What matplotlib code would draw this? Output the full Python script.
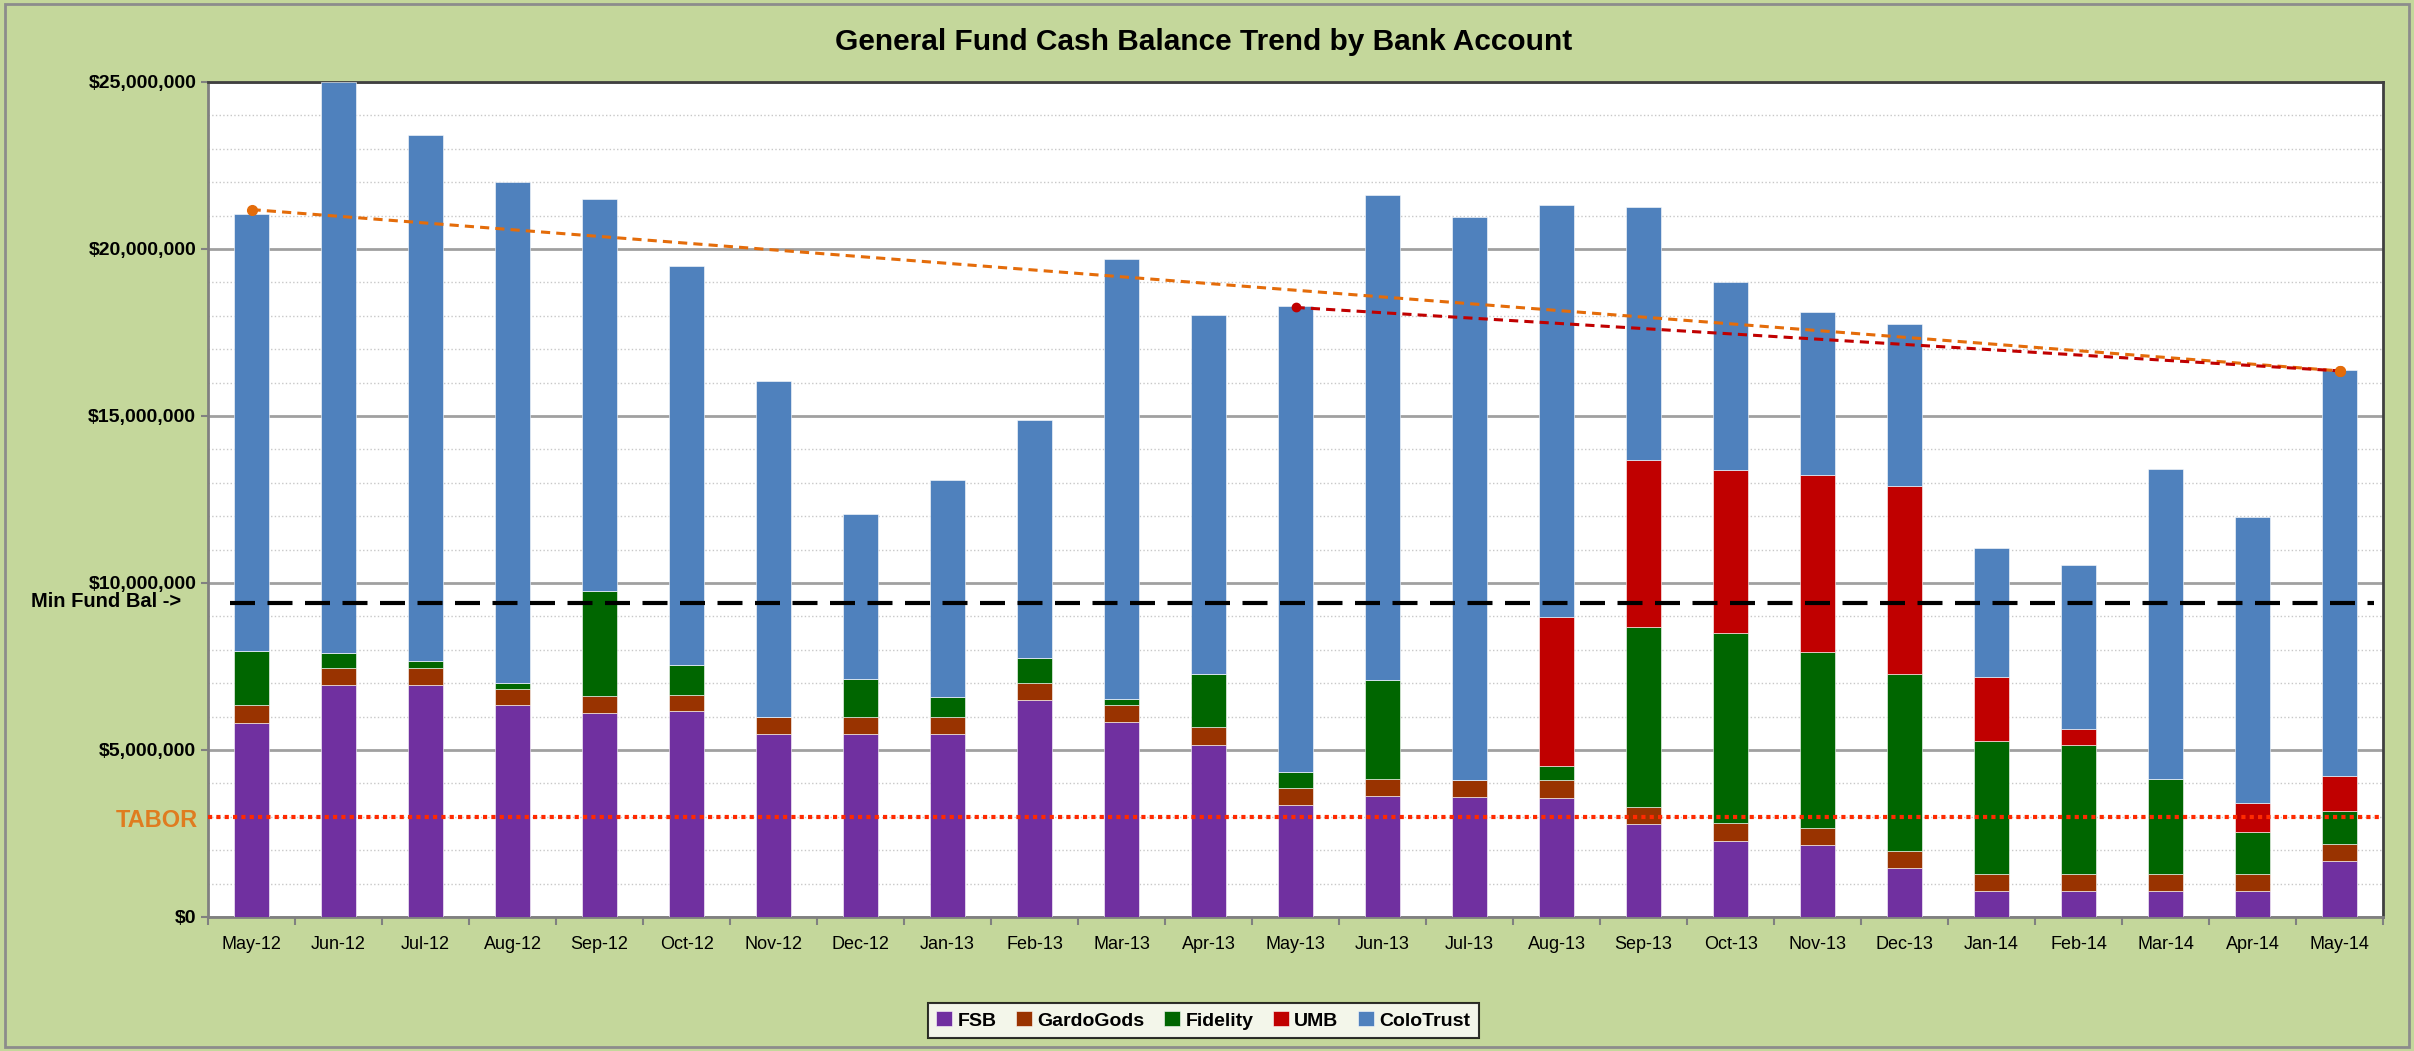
import numpy as np
import matplotlib.pyplot as plt
import matplotlib.patches as mpatches
from matplotlib.ticker import FuncFormatter, MultipleLocator

plt.rcParams['font.family'] = ['Liberation Sans Narrow', 'Liberation Sans', 'DejaVu Sans']

# Mois et soldes (en millions de dollars).
mois = ['May-12', 'Jun-12', 'Jul-12', 'Aug-12', 'Sep-12', 'Oct-12', 'Nov-12',
        'Dec-12', 'Jan-13', 'Feb-13', 'Mar-13', 'Apr-13', 'May-13', 'Jun-13',
        'Jul-13', 'Aug-13', 'Sep-13', 'Oct-13', 'Nov-13', 'Dec-13', 'Jan-14',
        'Feb-14', 'Mar-14', 'Apr-14', 'May-14']
fsb = [5.82, 6.94, 6.94, 6.34, 6.10, 6.16, 5.47, 5.47, 5.47, 6.50, 5.83, 5.16,
       3.34, 3.63, 3.59, 3.57, 2.77, 2.28, 2.15, 1.47, 0.78, 0.78, 0.77, 0.77, 1.68]
gardogods = [0.52, 0.52, 0.52, 0.50, 0.51, 0.50, 0.51, 0.51, 0.51, 0.51, 0.51, 0.52,
             0.52, 0.51, 0.51, 0.52, 0.51, 0.52, 0.52, 0.51, 0.52, 0.52, 0.53, 0.51, 0.52]
fidelity = [1.63, 0.43, 0.19, 0.16, 3.14, 0.87, 0.0, 1.15, 0.62, 0.74, 0.20, 1.59,
            0.48, 2.95, 0.0, 0.42, 5.40, 5.70, 5.25, 5.29, 3.98, 3.84, 2.84, 1.27, 0.96]
umb = [0, 0, 0, 0, 0, 0, 0, 0, 0, 0, 0, 0,
       0, 0, 0, 4.47, 5.01, 4.87, 5.31, 5.64, 1.92, 0.50, 0, 0.87, 1.06]
total = [21.05, 25.0, 23.41, 22.01, 21.49, 19.48, 16.05, 12.08, 13.09, 14.89,
         19.70, 18.02, 18.29, 21.62, 20.95, 21.32, 21.27, 19.02, 18.10, 17.74,
         11.06, 10.55, 13.42, 11.98, 16.37]

min_fund_bal = 9.40
tabor = 3.0
tendance_2ans = [21.18, 16.35]   # May-12 -> May-14
tendance_1an = [18.25, 16.35]    # May-13 -> May-14

couleurs = {'FSB': '#7030A0', 'GardoGods': '#993300', 'Fidelity': '#006600',
            'UMB': '#C00000', 'ColoTrust': '#4F81BD'}
fond = '#C4D79B'

x = np.arange(len(mois))
fsb = np.array(fsb)
gardogods = np.array(gardogods)
fidelity = np.array(fidelity)
umb = np.array(umb)
colotrust = np.array(total) - fsb - gardogods - fidelity - umb

fig = plt.figure(figsize=(24.14, 10.51), dpi=100, facecolor=fond)
fig.patches.append(mpatches.Rectangle((0.002, 0.004), 0.996, 0.992, transform=fig.transFigure,
                                      fill=False, edgecolor='#8C8C8C', linewidth=2))
ax = fig.add_axes([0.0862, 0.1275, 0.901, 0.7945])
ax.set_facecolor('white')

series = [('FSB', fsb), ('GardoGods', gardogods), ('Fidelity', fidelity),
          ('UMB', umb), ('ColoTrust', colotrust)]
bas = np.zeros(len(mois))
for nom, val in series:
    ax.bar(x, val * 1e6, 0.4, bottom=bas * 1e6, color=couleurs[nom], label=nom,
           edgecolor='white', linewidth=0.4, zorder=3)
    bas = bas + val

# Lignes de référence
ax.plot([-0.25, 24.4], [min_fund_bal * 1e6] * 2, color='black', linestyle=(0, (6, 3)),
        linewidth=3, zorder=4)
ax.axhline(tabor * 1e6, color='#FF2A00', linestyle=(0, (1, 1)), linewidth=3, zorder=4)

# Tendances
ax.plot([0, 24], np.array(tendance_2ans) * 1e6, color='#E46C0A', linestyle=(0, (3, 2)),
        linewidth=2.2, marker='o', markersize=7, zorder=5)
ax.plot([12, 24], np.array(tendance_1an) * 1e6, color='#C00000', linestyle=(0, (3, 2)),
        linewidth=2.2, marker='o', markersize=6, zorder=5)
ax.plot([24], [tendance_2ans[1] * 1e6], color='#E46C0A', marker='o', markersize=7, zorder=6)

ax.set_xlim(-0.5, 24.5)
ax.set_ylim(0, 25e6)
ax.yaxis.set_major_locator(MultipleLocator(5e6))
ax.yaxis.set_minor_locator(MultipleLocator(1e6))
ax.yaxis.set_major_formatter(FuncFormatter(lambda v, p: '${:,.0f}'.format(v)))
ax.grid(which='major', axis='y', color='#A0A0A0', linewidth=2, zorder=0)
ax.grid(which='minor', axis='y', color='#C8C8C8', linestyle=':', linewidth=1, zorder=0)
ax.set_axisbelow(True)

ax.set_xticks(x)
ax.set_xticklabels(mois, fontsize=13)
ax.set_xticks(np.arange(-0.5, 25, 1), minor=True)
ax.tick_params(axis='x', which='major', length=0, pad=14)
ax.tick_params(axis='x', which='minor', length=6, width=1.5, color='#808080')
ax.tick_params(axis='y', which='major', length=5, width=1.5, color='#808080', labelsize=14)
ax.tick_params(axis='y', which='minor', length=0)
for lab in ax.get_yticklabels():
    lab.set_fontweight('bold')

for cote in ['left', 'bottom']:
    ax.spines[cote].set_color('#808080')
    ax.spines[cote].set_linewidth(2)
for cote in ['top', 'right']:
    ax.spines[cote].set_color('#404040')
    ax.spines[cote].set_linewidth(2)

ax.text(-0.81, 9.44e6, 'Min Fund Bal ->', ha='right', va='center', fontsize=14.5,
        fontweight='bold')
ax.text(-0.62, 2.88e6, 'TABOR', ha='right', va='center', fontsize=17,
        fontweight='bold', color='#E46C0A', alpha=0.85)

fig.text(0.4988, 0.96, 'General Fund Cash Balance Trend by Bank Account', ha='center',
         va='center', fontsize=21.5, fontweight='bold')

leg = fig.legend(loc='center', bbox_to_anchor=(0.4985, 0.029), ncol=5, frameon=True,
                 prop={'weight': 'bold', 'size': 14}, handlelength=0.8, handleheight=0.8,
                 columnspacing=1.0, handletextpad=0.3, borderpad=0.45)
leg.get_frame().set_edgecolor('black')
leg.get_frame().set_linewidth(1.5)
leg.get_frame().set_boxstyle('square', pad=0)

fig.savefig('out.png', dpi=100, facecolor=fond)
